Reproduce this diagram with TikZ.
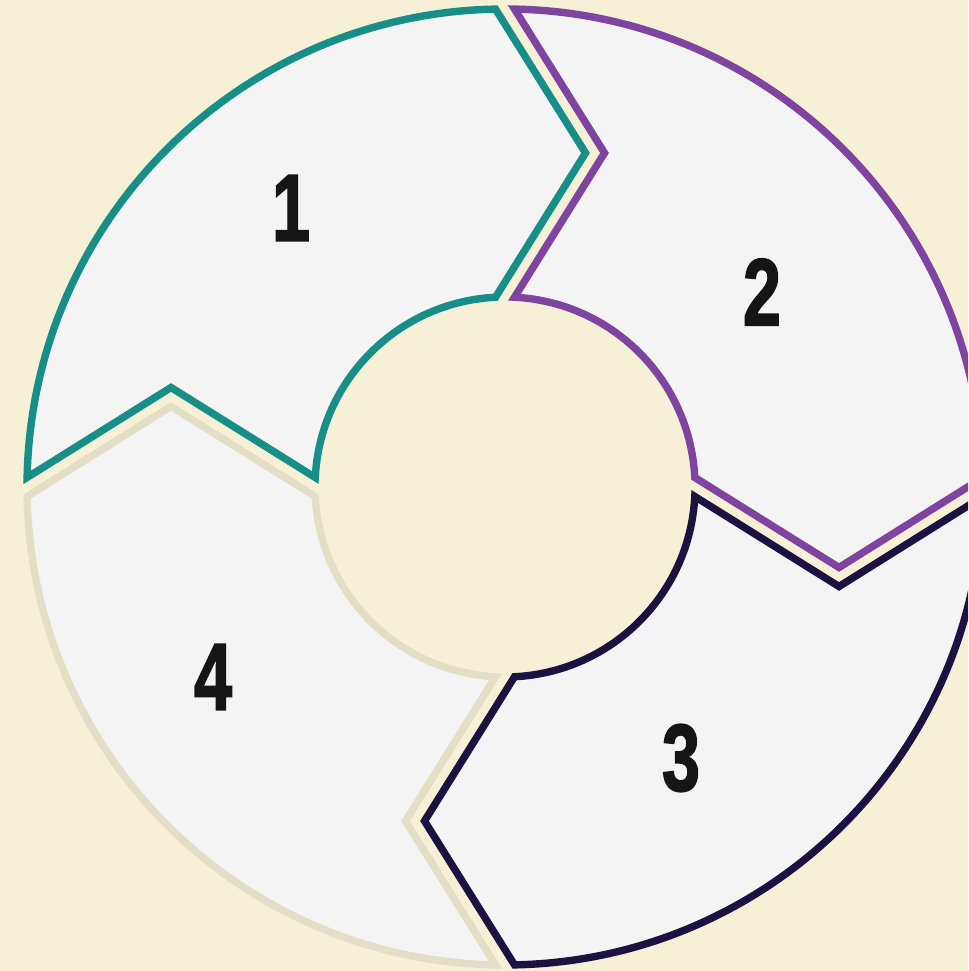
\documentclass[tikz,border=0pt]{standalone}
\usepackage{fontspec}
\newfontfamily\numfont[BoldFeatures={FakeBold=2}]{Liberation Sans}
\usepackage{tikz}
\usetikzlibrary{calc}
\definecolor{bgcream}{HTML}{F6F0D7}
\definecolor{ringfill}{HTML}{F4F4F4}
\definecolor{stepteal}{HTML}{178E88}
\definecolor{steppurple}{HTML}{7F44A0}
\definecolor{stepnavy}{HTML}{1B1242}
\definecolor{stepbeige}{HTML}{E3DFC6}
\definecolor{numblack}{HTML}{151515}

\begin{document}
\begin{tikzpicture}[
  ringpart/.style={fill=ringfill,line width=2.1pt,line join=miter},
  numlabel/.style={font=\numfont\bfseries\fontsize{27}{27}\selectfont,text=numblack}]
  \useasboundingbox (0,0) rectangle (9.68,9.71);
  \clip (0,0) rectangle (9.68,9.71);
  \fill[bgcream] (0,0) rectangle (9.68,9.71);
  \coordinate (c) at (5.05,4.84);
  \def\Ro{4.78} \def\Ri{1.9} \def\Rm{3.34} \def\tip{0.9} \def\gap{0.095}
  % four arrow parts of the ring, clockwise
  \foreach \a/\col in {180/stepteal,90/steppurple,0/stepnavy,270/stepbeige}{
    \pgfmathsetmacro{\b}{\a-90}
    \pgfmathsetmacro{\dO}{asin(\gap/\Ro)}
    \pgfmathsetmacro{\dI}{asin(\gap/\Ri)}
    \draw[ringpart,draw=\col] ($(c)+(\a-\dO:\Ro)$)
      arc[start angle=\a-\dO, end angle=\b+\dO, radius=\Ro]
      -- ($(c)+(\b:\Rm)+(\b-90:\tip-\gap)$) -- ($(c)+(\b+\dI:\Ri)$)
      arc[start angle=\b+\dI, end angle=\a-\dI, radius=\Ri]
      -- ($(c)+(\a:\Rm)+(\a-90:\tip+\gap)$) -- cycle;
  }
  % step numbers
  \node[numlabel] (n1) at (2.91,7.63) {\scalebox{0.72}[1]{1}};
  \node[numlabel] (n2) at (7.62,6.79) {\scalebox{0.72}[1]{2}};
  \node[numlabel] (n3) at (6.81,2.13) {\scalebox{0.72}[1]{3}};
  \node[numlabel] (n4) at (2.13,2.94) {\scalebox{0.72}[1]{4}};
\end{tikzpicture}
\end{document}
